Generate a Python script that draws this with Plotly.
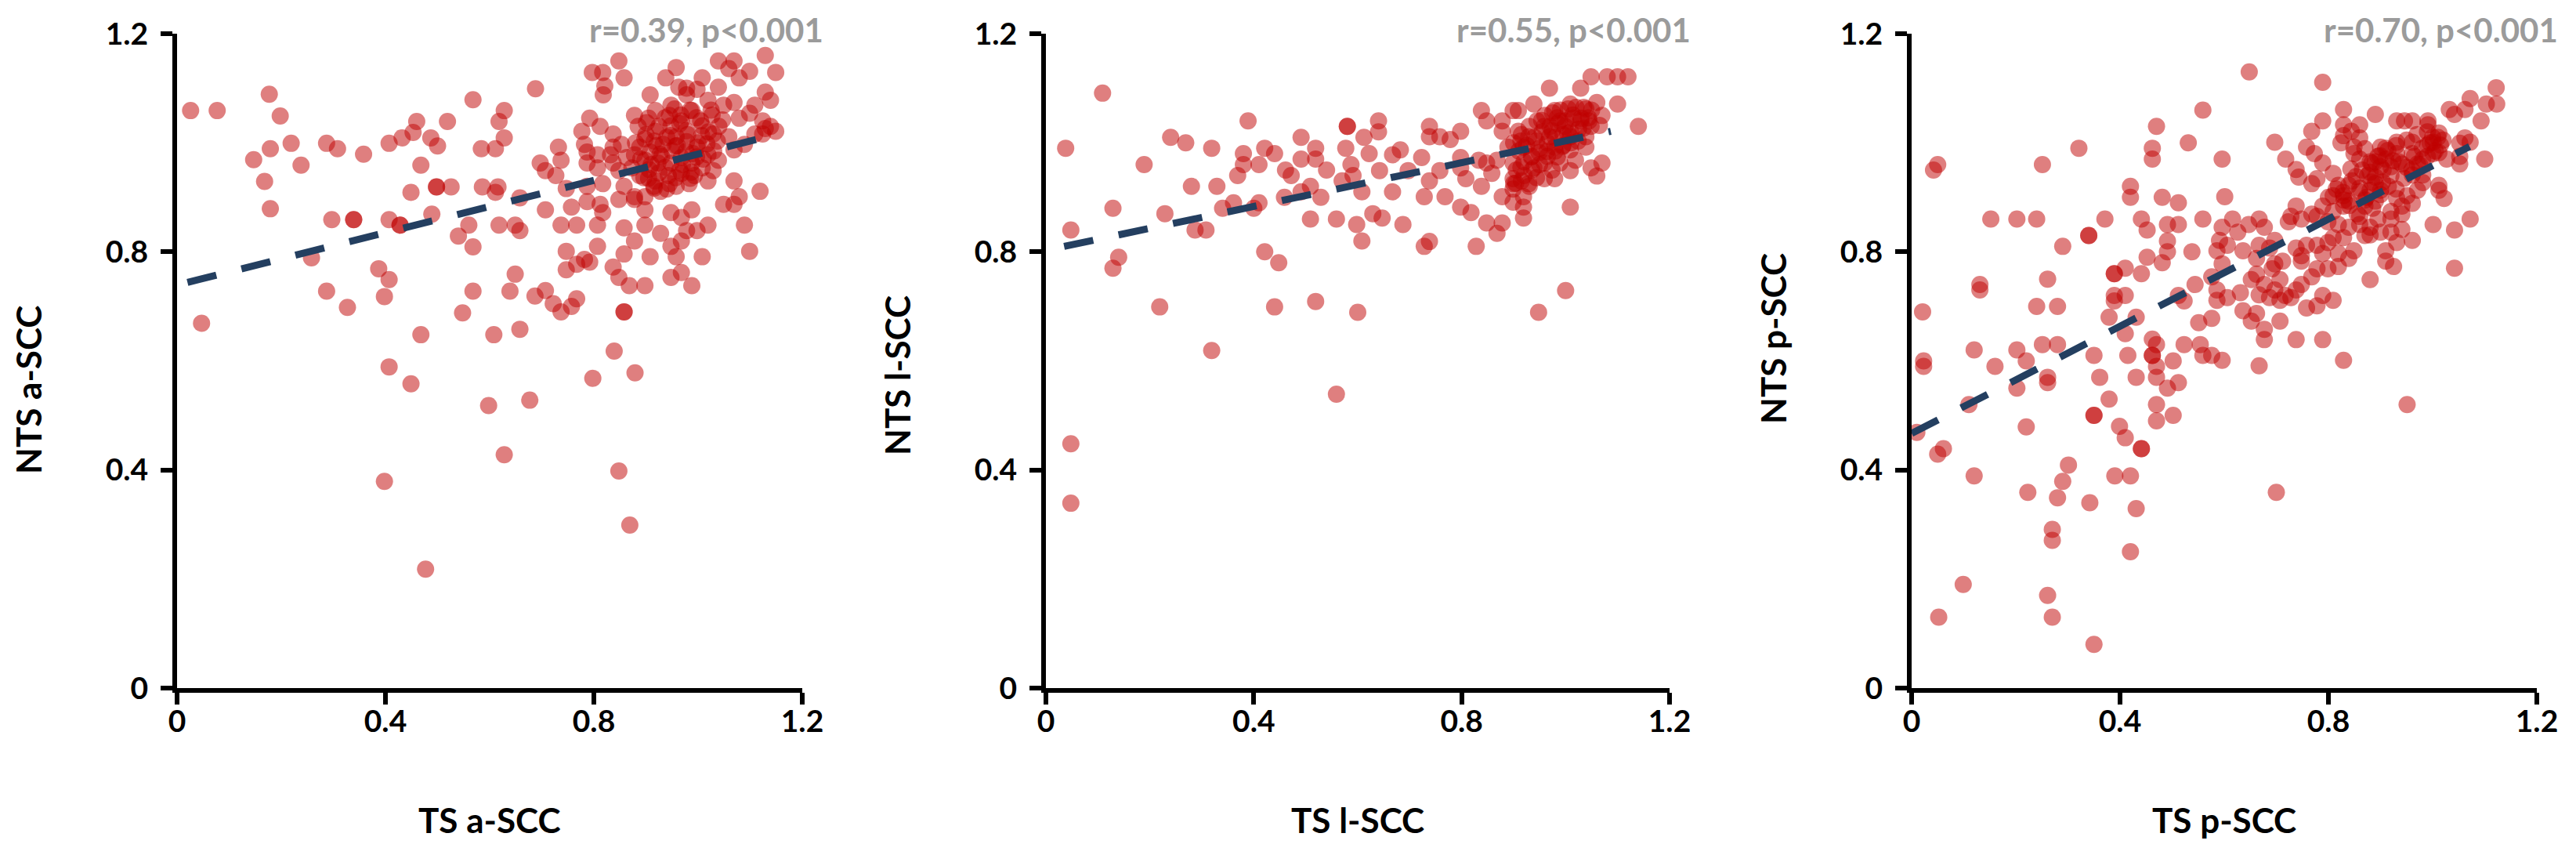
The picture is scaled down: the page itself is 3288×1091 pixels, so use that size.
import plotly.graph_objects as go
from plotly.subplots import make_subplots

# ---- data (x = TS, y = NTS) ----
a_scc_points = [
    (0.026, 1.059), (0.077, 1.059), (0.047, 0.669), (0.177, 1.089), (0.198, 1.049), (0.219, 0.999),
    (0.179, 0.989), (0.147, 0.969), (0.238, 0.959), (0.168, 0.929), (0.179, 0.879), (0.287, 0.999),
    (0.308, 0.989), (0.358, 0.979), (0.297, 0.859), (0.339, 0.859), (0.339, 0.859), (0.258, 0.789),
    (0.287, 0.728), (0.327, 0.698), (0.407, 0.999), (0.432, 1.009), (0.453, 1.019), (0.46, 1.039),
    (0.487, 1.009), (0.5, 0.994), (0.519, 1.039), (0.468, 0.959), (0.449, 0.909), (0.498, 0.919),
    (0.498, 0.919), (0.526, 0.919), (0.489, 0.869), (0.407, 0.859), (0.428, 0.849), (0.428, 0.849),
    (0.387, 0.769), (0.407, 0.749), (0.398, 0.718), (0.468, 0.648), (0.407, 0.589), (0.449, 0.558),
    (0.398, 0.379), (0.477, 0.218), (0.568, 1.079), (0.584, 0.989), (0.611, 0.989), (0.618, 1.039),
    (0.628, 1.059), (0.628, 1.009), (0.586, 0.919), (0.616, 0.919), (0.611, 0.909), (0.618, 0.849),
    (0.649, 0.849), (0.658, 0.839), (0.658, 0.899), (0.54, 0.829), (0.56, 0.849), (0.568, 0.809),
    (0.568, 0.728), (0.548, 0.688), (0.639, 0.728), (0.649, 0.759), (0.608, 0.648), (0.658, 0.658),
    (0.598, 0.518), (0.628, 0.428), (0.677, 0.528), (0.688, 1.099), (0.798, 0.568), (0.839, 0.618),
    (0.879, 0.578), (0.848, 0.398), (0.869, 0.299),
    (0.797, 1.129), (0.817, 1.129), (0.848, 1.150), (0.858, 1.119), (0.821, 1.104), (0.818, 1.088),
    (0.958, 1.138), (0.938, 1.119), (0.908, 1.088), (0.978, 1.100), (1.008, 1.119), (1.039, 1.150),
    (1.069, 1.150), (1.129, 1.160), (1.149, 1.129), (1.099, 1.131), (1.079, 1.119), (1.059, 1.136),
    (1.129, 1.093), (1.139, 1.078), (1.109, 1.069), (1.039, 1.102), (0.998, 1.098), (0.963, 1.102),
    (0.878, 1.050), (0.918, 1.059), (0.948, 1.069), (0.978, 1.088), (0.988, 1.059), (1.019, 1.078),
    (1.049, 1.069), (1.069, 1.074), (1.079, 1.045), (1.099, 1.054), (1.124, 1.040), (1.129, 1.026),
    (1.149, 1.021), (1.109, 1.016), (1.089, 0.997), (1.069, 0.987), (1.059, 1.011), (1.029, 1.016),
    (1.008, 1.031), (0.968, 1.040), (0.948, 1.031), (0.918, 1.021), (0.898, 1.007), (0.888, 0.992),
    (0.908, 0.983), (0.933, 0.997), (0.958, 1.011), (0.978, 1.002), (0.998, 0.992), (1.019, 0.978),
    (1.039, 0.968), (1.029, 0.949), (1.008, 0.954), (0.988, 0.963), (0.968, 0.973), (0.948, 0.963),
    (0.923, 0.963), (0.898, 0.968), (0.878, 0.978), (0.873, 0.954), (0.888, 0.940), (0.918, 0.930),
    (0.943, 0.940), (0.968, 0.944), (0.993, 0.940), (1.019, 0.930), (0.983, 0.925), (0.958, 0.920),
    (0.928, 0.911), (0.898, 0.901), (0.878, 0.901), (0.858, 0.920), (0.848, 0.949), (0.863, 0.973),
    (0.853, 0.997), (0.837, 1.016),
    (0.777, 1.021), (0.792, 1.045), (0.812, 1.030), (0.782, 0.997), (0.787, 0.983), (0.837, 0.992),
    (0.832, 0.978), (0.807, 0.978), (0.787, 0.963), (0.807, 0.954), (0.837, 0.963), (0.732, 0.992),
    (0.737, 0.968), (0.697, 0.963), (0.707, 0.949), (0.727, 0.940), (0.747, 0.916), (0.757, 0.882),
    (0.707, 0.877), (0.787, 0.920), (0.817, 0.925), (0.812, 0.887), (0.817, 0.872), (0.787, 0.892),
    (0.767, 0.849), (0.737, 0.849), (0.807, 0.849), (0.848, 0.896), (0.858, 0.844), (0.878, 0.896),
    (0.898, 0.877), (0.898, 0.849), (0.878, 0.820), (0.928, 0.834), (0.948, 0.872), (0.968, 0.863),
    (0.988, 0.877), (0.998, 0.839), (1.019, 0.849), (0.978, 0.839), (0.948, 0.810), (0.968, 0.820),
    (0.958, 0.791), (0.908, 0.791), (0.948, 0.753), (0.968, 0.762), (0.988, 0.738), (0.898, 0.738),
    (0.868, 0.738), (0.848, 0.753), (0.837, 0.772), (0.858, 0.796), (0.807, 0.810), (0.747, 0.801),
    (0.782, 0.786), (0.767, 0.777), (0.747, 0.767), (0.792, 0.781), (1.008, 0.791), (1.069, 0.887),
    (1.049, 0.887), (1.079, 0.901), (1.069, 0.930), (1.089, 0.849), (1.099, 0.801), (1.119, 0.911),
    (1.139, 1.030), (1.124, 1.016),
    (0.687, 0.719), (0.707, 0.729), (0.722, 0.705), (0.737, 0.690), (0.757, 0.700), (0.767, 0.714),
    (0.858, 0.690), (0.858, 0.690),
    (0.901, 1.037), (0.937, 1.046), (0.967, 1.051), (0.997, 1.046), (1.027, 1.051), (1.047, 1.042),
    (0.916, 1.003), (0.947, 1.013), (0.977, 1.022), (1.007, 1.013), (1.037, 1.003), (0.906, 0.951),
    (0.937, 0.955), (0.957, 0.994), (0.997, 0.974), (0.977, 0.984), (1.017, 0.998), (0.927, 0.979),
    (0.896, 0.936), (0.987, 0.946), (0.957, 0.936), (0.916, 0.917),
    # solid core
    (0.885, 1.030), (0.905, 1.045), (0.925, 1.030), (0.945, 1.050), (0.965, 1.035), (0.985, 1.060),
    (1.005, 1.040), (1.025, 1.060), (0.955, 1.062), (0.880, 1.000), (0.900, 1.015), (0.920, 0.995),
    (0.940, 1.010), (0.960, 0.995), (0.980, 1.015), (1.000, 1.000), (1.020, 1.020), (1.040, 1.030),
    (0.890, 0.970), (0.910, 0.960), (0.930, 0.975), (0.950, 0.985), (0.970, 0.960), (0.990, 0.980),
    (1.010, 0.970), (1.030, 0.985), (0.905, 0.935), (0.925, 0.945), (0.945, 0.925), (0.965, 0.950),
    (0.985, 0.935), (0.915, 0.920), (0.940, 0.915),
]

l_scc_points = [
    (0.038, 0.990), (0.048, 0.840), (0.048, 0.448), (0.048, 0.339), (0.109, 1.091), (0.129, 0.880),
    (0.129, 0.770), (0.140, 0.790), (0.189, 0.960), (0.219, 0.699), (0.229, 0.870), (0.240, 1.010),
    (0.269, 1.000), (0.280, 0.920), (0.287, 0.840), (0.308, 0.840), (0.319, 0.990), (0.319, 0.619),
    (0.329, 0.920), (0.340, 0.880), (0.361, 0.890), (0.369, 0.940), (0.380, 0.980), (0.380, 0.960),
    (0.389, 1.040), (0.400, 0.880), (0.410, 0.890), (0.410, 0.960), (0.421, 0.990), (0.440, 0.980),
    (0.421, 0.800), (0.448, 0.780), (0.440, 0.699), (0.459, 0.900), (0.461, 0.950), (0.472, 0.940),
    (0.491, 1.010), (0.491, 0.970), (0.491, 0.910), (0.509, 0.860), (0.509, 0.920), (0.519, 0.990),
    (0.519, 0.970), (0.519, 0.709), (0.529, 0.900), (0.540, 0.950), (0.559, 0.860), (0.559, 0.539),
    (0.570, 0.930), (0.577, 0.990), (0.580, 1.030), (0.580, 1.030), (0.587, 0.960), (0.591, 0.940),
    (0.598, 0.850), (0.600, 0.689), (0.608, 0.820), (0.608, 0.910), (0.612, 1.010), (0.622, 0.980),
    (0.629, 0.870), (0.640, 1.040), (0.640, 1.020), (0.948, 0.689), (1.000, 0.729),
    (1.049, 1.121), (1.080, 1.121), (1.100, 1.121), (1.120, 1.121), (0.969, 1.100), (1.029, 1.100),
    (1.009, 1.071), (1.060, 1.074), (1.100, 1.071), (1.140, 1.030), (0.939, 1.071), (0.838, 1.059),
    (0.848, 1.040), (0.899, 1.059), (0.909, 1.059), (0.878, 1.040), (0.878, 1.021), (0.979, 1.059),
    (0.989, 1.040), (1.039, 1.062), (1.070, 1.050), (0.959, 1.030), (0.999, 1.030), (1.029, 1.040),
    (1.049, 1.030), (0.909, 1.021), (0.929, 1.011), (0.969, 1.011), (1.009, 1.011), (1.039, 1.011),
    (0.889, 0.992), (0.919, 0.992), (0.949, 0.982), (0.979, 0.992), (1.009, 0.987), (1.039, 0.992),
    (0.959, 0.963), (0.989, 0.963), (1.019, 0.968), (0.939, 0.954), (0.899, 0.963), (0.868, 0.968),
    (0.848, 0.963), (0.833, 0.968), (0.899, 0.934), (0.929, 0.925), (0.959, 0.934), (0.979, 0.934),
    (1.009, 0.949), (1.049, 0.954), (1.070, 0.963), (1.060, 0.939), (0.899, 0.915), (0.878, 0.901),
    (0.919, 0.901), (0.899, 0.891), (0.919, 0.882), (0.919, 0.862), (0.878, 0.853), (0.848, 0.853),
    (0.868, 0.834), (1.009, 0.882), (0.858, 0.944), (0.838, 0.920), (0.808, 0.934), (0.798, 0.973),
    (0.798, 0.954), (0.798, 1.021), (0.778, 1.006), (0.758, 1.011), (0.738, 1.030), (0.738, 1.011),
    (0.758, 0.949), (0.738, 0.930), (0.728, 0.901), (0.768, 0.901), (0.798, 0.882), (0.818, 0.872),
    (0.828, 0.810), (0.723, 0.973), (0.697, 0.949), (0.667, 0.978), (0.682, 0.987), (0.642, 0.949),
    (0.667, 0.910), (0.647, 0.862), (0.687, 0.850), (0.728, 0.810), (0.738, 0.819),
    (0.954, 1.041), (0.984, 1.046), (1.014, 1.051), (1.044, 1.046), (1.065, 1.032), (0.944, 1.003),
    (0.974, 1.022), (1.004, 1.017), (1.034, 1.027), (0.964, 0.984), (0.994, 0.993), (1.024, 1.003),
    (0.984, 0.974), (0.934, 0.974), (0.914, 1.003), (0.914, 0.955), (0.944, 0.936), (0.974, 0.950),
    (0.904, 0.926),
    # solid core
    (0.900, 1.000), (0.915, 1.015), (0.930, 1.030), (0.945, 1.040), (0.960, 1.050), (0.975, 1.055),
    (0.990, 1.060), (1.005, 1.062), (1.020, 1.065), (1.035, 1.065), (1.050, 1.060), (0.910, 0.985),
    (0.925, 0.995), (0.940, 1.010), (0.955, 1.020), (0.970, 1.030), (0.985, 1.035), (1.000, 1.040),
    (1.015, 1.045), (1.030, 1.045), (1.045, 1.040), (0.920, 0.965), (0.935, 0.975), (0.950, 0.990),
    (0.965, 1.000), (0.980, 1.010), (0.995, 1.015), (1.010, 1.020), (1.025, 1.025), (0.905, 0.950),
    (0.920, 0.940), (0.935, 0.950), (0.950, 0.960), (0.965, 0.975), (0.980, 0.985), (0.995, 0.995),
    (1.010, 1.000), (0.900, 0.925), (0.915, 0.930), (0.930, 0.920),
]

p_scc_points = [
    (0.010, 0.469), (0.021, 0.690), (0.023, 0.600), (0.023, 0.590), (0.042, 0.950), (0.050, 0.960),
    (0.050, 0.429), (0.061, 0.439), (0.052, 0.130), (0.099, 0.190), (0.110, 0.520), (0.120, 0.620),
    (0.120, 0.389), (0.131, 0.740), (0.131, 0.730), (0.152, 0.860), (0.160, 0.590), (0.202, 0.860),
    (0.202, 0.620), (0.202, 0.550), (0.220, 0.600), (0.220, 0.479), (0.223, 0.359), (0.240, 0.860),
    (0.240, 0.700), (0.251, 0.960), (0.251, 0.630), (0.261, 0.750), (0.261, 0.570), (0.261, 0.560),
    (0.261, 0.170), (0.270, 0.291), (0.270, 0.271), (0.270, 0.130), (0.280, 0.700), (0.280, 0.630),
    (0.280, 0.349), (0.290, 0.810), (0.290, 0.379), (0.301, 0.409), (0.321, 0.990), (0.340, 0.830),
    (0.340, 0.830), (0.342, 0.340), (0.350, 0.610), (0.350, 0.500), (0.350, 0.500), (0.350, 0.080),
    (0.361, 0.570), (0.371, 0.860), (0.379, 0.680), (0.379, 0.530), (0.389, 0.760), (0.389, 0.760),
    (0.389, 0.720), (0.389, 0.710), (0.390, 0.389), (0.399, 0.480), (0.410, 0.770), (0.410, 0.720),
    (0.410, 0.650), (0.410, 0.459), (0.420, 0.920), (0.420, 0.900), (0.415, 0.610), (0.420, 0.389),
    (0.420, 0.250), (0.431, 0.680), (0.431, 0.570), (0.431, 0.329), (0.441, 0.760), (0.441, 0.860),
    (0.441, 0.439), (0.441, 0.439), (0.452, 0.840), (0.452, 0.790), (0.462, 0.990), (0.462, 0.970),
    (0.462, 0.640), (0.462, 0.610), (0.462, 0.610), (0.470, 1.030), (0.470, 0.630), (0.470, 0.590),
    (0.470, 0.570), (0.470, 0.520), (0.470, 0.490), (0.481, 0.900), (0.481, 0.780), (0.491, 0.820),
    (0.491, 0.800), (0.491, 0.850), (0.491, 0.550), (0.502, 0.600), (0.502, 0.500), (0.512, 0.890),
    (0.512, 0.850), (0.512, 0.720), (0.512, 0.560), (0.523, 0.710), (0.523, 0.630), (0.531, 1.000),
    (0.538, 0.800), (0.544, 0.740), (0.551, 0.670), (0.554, 0.630), (0.559, 1.060), (0.559, 0.860),
    (0.559, 0.610), (0.700, 0.359), (0.951, 0.520), (0.648, 1.130), (1.122, 1.101),
    (0.789, 1.111), (0.829, 1.061), (0.890, 1.052), (0.789, 1.040), (0.768, 1.021), (0.829, 1.033),
    (0.860, 1.033), (0.844, 1.021), (0.829, 1.013), (0.860, 1.009), (0.824, 1.000), (0.697, 1.001),
    (0.758, 0.992), (0.773, 0.980), (0.789, 0.963), (0.718, 0.970), (0.738, 0.951), (0.743, 0.937),
    (0.778, 0.934), (0.768, 0.925), (0.809, 0.944), (0.849, 0.992), (0.849, 0.980), (0.870, 0.989),
    (0.860, 0.970), (0.900, 0.992), (0.890, 0.965), (0.931, 1.040), (0.946, 1.040), (0.961, 1.040),
    (0.991, 1.040), (0.931, 1.001), (0.961, 1.001), (0.991, 1.033), (1.012, 1.018), (1.001, 1.001),
    (1.032, 1.061), (1.042, 1.052), (1.062, 1.061), (1.072, 1.081), (1.103, 1.071), (1.123, 1.071),
    (1.093, 1.040), (1.062, 1.009), (1.072, 1.001), (1.052, 0.999), (1.100, 0.970), (1.052, 0.961),
    (1.027, 0.970), (1.012, 0.982), (0.981, 0.970), (1.001, 0.980), (0.961, 0.980), (0.931, 0.980),
    (0.910, 0.970), (0.900, 0.956), (0.880, 0.946), (0.890, 0.937), (0.920, 0.956), (0.941, 0.961),
    (0.971, 0.961), (0.981, 0.941), (0.961, 0.941), (0.981, 0.927), (1.012, 0.922), (1.022, 0.898),
    (0.971, 0.913), (0.951, 0.903), (0.941, 0.884), (0.920, 0.874), (0.920, 0.860), (0.941, 0.869),
    (0.961, 0.889), (0.931, 0.898), (0.900, 0.913), (0.880, 0.913), (0.890, 0.893), (0.870, 0.884),
    (0.860, 0.917), (0.839, 0.922), (0.819, 0.922), (0.809, 0.903), (0.829, 0.903), (0.839, 0.893),
    (0.860, 0.865), (0.860, 0.850), (0.880, 0.831), (0.900, 0.836), (0.920, 0.836), (0.941, 0.841),
    (0.961, 0.821), (0.931, 0.817), (0.910, 0.802), (0.925, 0.773), (0.880, 0.749), (0.910, 0.783),
    (1.001, 0.850), (1.042, 0.840), (1.072, 0.860), (1.042, 0.770), (1.012, 0.913), (1.052, 0.975),
    (0.829, 0.884), (0.809, 0.874), (0.789, 0.884), (0.778, 0.865), (0.799, 0.855), (0.768, 0.869),
    (0.748, 0.860), (0.728, 0.865), (0.738, 0.884), (0.723, 0.855), (0.819, 0.850), (0.839, 0.845),
    (0.829, 0.826), (0.809, 0.826), (0.799, 0.817), (0.778, 0.812), (0.758, 0.812), (0.738, 0.807),
    (0.789, 0.797), (0.819, 0.797), (0.849, 0.802), (0.839, 0.788), (0.819, 0.773), (0.799, 0.769),
    (0.778, 0.769), (0.748, 0.783), (0.748, 0.793), (0.697, 0.778), (0.712, 0.783), (0.687, 0.807),
    (0.667, 0.812), (0.697, 0.821), (0.677, 0.845), (0.667, 0.860), (0.647, 0.850), (0.626, 0.836),
    (0.616, 0.860), (0.596, 0.845), (0.591, 0.821), (0.586, 0.802), (0.596, 0.778), (0.606, 0.812),
    (0.636, 0.802), (0.662, 0.788), (0.677, 0.740), (0.652, 0.749), (0.662, 0.759), (0.692, 0.769),
    (0.707, 0.749), (0.697, 0.730), (0.717, 0.720), (0.707, 0.711), (0.738, 0.730), (0.748, 0.740),
    (0.768, 0.754), (0.789, 0.720), (0.809, 0.711), (0.778, 0.701), (0.758, 0.697), (0.728, 0.716),
    (0.687, 0.716), (0.667, 0.721), (0.631, 0.725), (0.606, 0.716), (0.586, 0.711), (0.636, 0.692),
    (0.662, 0.687), (0.652, 0.673), (0.677, 0.658), (0.677, 0.639), (0.707, 0.673), (0.738, 0.639),
    (0.789, 0.639), (0.829, 0.601), (0.667, 0.591), (0.596, 0.601), (0.576, 0.610), (0.576, 0.678),
    (0.586, 0.730), (0.576, 0.754), (0.596, 0.970), (0.601, 0.901),
    (0.883, 0.962), (0.899, 0.976), (0.914, 0.986), (0.924, 0.967), (0.883, 0.928), (0.853, 0.938),
    (0.843, 0.952), (0.828, 0.909), (0.904, 0.928), (0.873, 0.900), (1.000, 1.010), (0.990, 0.996),
    (1.015, 0.996),
    # solid core
    (0.800, 0.900), (0.815, 0.915), (0.830, 0.895), (0.845, 0.930), (0.860, 0.910), (0.875, 0.940),
    (0.890, 0.925), (0.905, 0.950), (0.920, 0.940), (0.935, 0.965), (0.950, 0.955), (0.965, 0.975),
    (0.980, 0.990), (0.995, 1.000), (1.010, 1.010), (1.020, 1.005), (0.840, 0.885), (0.855, 0.870),
    (0.870, 0.895), (0.885, 0.880), (0.900, 0.905), (0.915, 0.920), (0.930, 0.915), (0.945, 0.935),
    (0.960, 0.950), (0.975, 0.960), (0.990, 0.975), (1.005, 0.985), (0.865, 0.950), (0.880, 0.965),
    (0.895, 0.975), (0.910, 0.990), (0.930, 0.995), (0.950, 1.005), (0.970, 1.015), (0.990, 1.020),
    (0.880, 0.845), (0.895, 0.860), (0.870, 0.830),
]

# dashed trend lines (end points)
a_trend_x = [0.02, 1.158]
a_trend_y = [0.744, 1.017]
l_trend_x = [0.035, 1.087]
l_trend_y = [0.810, 1.021]
p_trend_x = [0.0, 1.071]
p_trend_y = [0.467, 0.993]

stat_labels = ["r=0.39, p<0.001", "r=0.55, p<0.001", "r=0.70, p<0.001"]
x_titles = ["TS a-SCC", "TS l-SCC", "TS p-SCC"]
y_titles = ["NTS a-SCC", "NTS l-SCC", "NTS p-SCC"]
tick_values = [0, 0.4, 0.8, 1.2]
tick_labels = ["0", "0.4", "0.8", "1.2"]

W, H = 3288, 1091
OFF = 8  # the page sits 8px in from the window corner
FONT = "Lato"
POINT_COLOR = "#C00000"
TREND_COLOR = "#243F60"

panels = [
    (a_scc_points, a_trend_x, a_trend_y),
    (l_scc_points, l_trend_x, l_trend_y),
    (p_scc_points, p_trend_x, p_trend_y),
]

fig = make_subplots(rows=1, cols=3)

for i, (pts, tx, ty) in enumerate(panels):
    xs = [p[0] for p in pts]
    ys = [p[1] for p in pts]
    fig.add_trace(go.Scatter(x=xs, y=ys, mode="markers",
                             marker=dict(color=POINT_COLOR, size=22, opacity=0.5, line=dict(width=0)),
                             cliponaxis=False, showlegend=False),
                  row=1, col=i + 1)
    fig.add_trace(go.Scatter(x=tx, y=ty, mode="lines",
                             line=dict(color=TREND_COLOR, width=9, dash="38px,33px"),
                             showlegend=False),
                  row=1, col=i + 1)

# plot areas in pixels (left, right) measured on the reference
x_px = [(226, 1024), (1335, 2131), (2440, 3238)]
y_px = (43, 878)
y_title_px = [(36, 498), (1145, 479), (2263, 432)]


def px_x(v):
    return (v - OFF) / W


def px_y(v):
    return 1 - (v - OFF) / H


axis_common = dict(
    range=[0, 1.2], tickmode="array", tickvals=tick_values, ticktext=tick_labels,
    showline=True, linecolor="black", linewidth=6,
    ticks="outside", ticklen=15, tickwidth=6, tickcolor="black",
    showgrid=False, zeroline=False, automargin=False,
    tickfont=dict(family=FONT, size=39, color="black", weight="bold"),
)

for i in range(3):
    sx = "" if i == 0 else str(i + 1)
    l, r = x_px[i]
    fig.layout["xaxis" + sx].update(domain=[px_x(l), px_x(r)], ticklabelstandoff=-12, **axis_common)
    fig.layout["yaxis" + sx].update(domain=[px_y(y_px[1]), px_y(y_px[0])],
                                    ticklabelstandoff=8, **axis_common)

    fig.add_annotation(text=stat_labels[i], xref="x%s domain" % sx, x=1, xanchor="right", xshift=29,
                       yref="paper", y=px_y(38), yanchor="middle", showarrow=False,
                       font=dict(family=FONT, size=42, color="#9B9B9B", weight="bold"))
    fig.add_annotation(text=x_titles[i], xref="paper", x=px_x((l + r) / 2), xanchor="center",
                       yref="paper", y=px_y(1046), yanchor="middle", showarrow=False,
                       font=dict(family=FONT, size=44, color="black", weight="bold"))
    tx_px, ty_px = y_title_px[i]
    fig.add_annotation(text=y_titles[i], textangle=-90, xref="paper", x=px_x(tx_px), xanchor="center",
                       yref="paper", y=px_y(ty_px), yanchor="middle", showarrow=False,
                       font=dict(family=FONT, size=44, color="black", weight="bold"))

fig.update_layout(
    width=W, height=H,
    margin=dict(l=0, r=0, t=0, b=0),
    paper_bgcolor="white", plot_bgcolor="white",
    showlegend=False,
)

fig.write_html("out.html")
